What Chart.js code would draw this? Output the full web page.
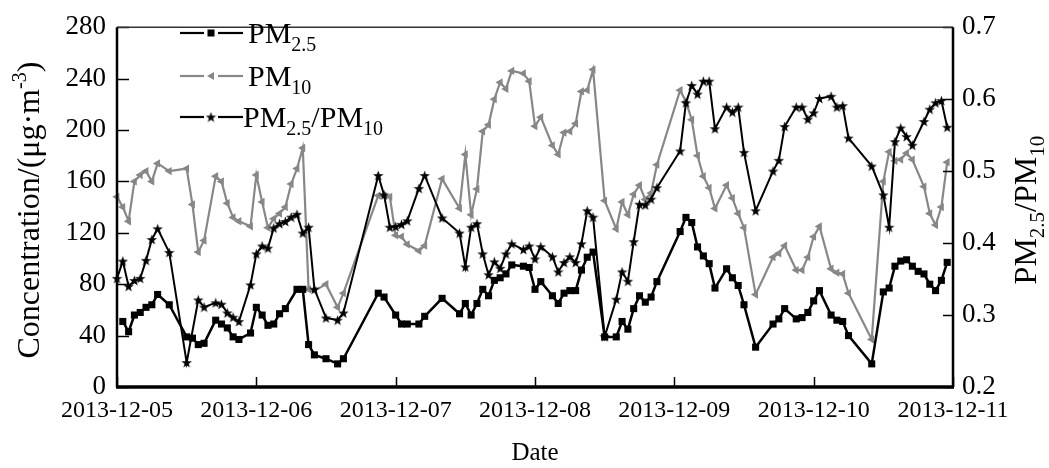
<!DOCTYPE html>
<html>
<head>
<meta charset="utf-8">
<script src="https://cdn.jsdelivr.net/npm/chart.js@4.4.1/dist/chart.umd.min.js"></script>
<style>
  html, body { margin: 0; padding: 0; background: #fff; }
  #wrap { width: 1049px; height: 468px; }
</style>
</head>
<body>
<div id="wrap"><canvas id="pm-chart"></canvas></div>
<script>
// x values are hours after 2013-12-05 00:00
const dateLabels = ["2013-12-05", "2013-12-06", "2013-12-07", "2013-12-08", "2013-12-09", "2013-12-10", "2013-12-11"];
const concTicks = [0, 40, 80, 120, 160, 200, 240, 280];
const ratioTicks = [0.2, 0.3, 0.4, 0.5, 0.6, 0.7];

const pm25Hours = [1, 2, 3, 4, 5, 6, 7, 9, 12, 13, 14, 15, 17, 18, 19, 20, 21, 23, 24, 25, 26, 27, 28, 29, 31, 32, 33, 34, 36, 38, 39,
  45, 46, 48, 49, 50, 52, 53, 56, 59, 60, 61, 62, 63, 64, 65, 66, 67, 68, 70, 71, 72, 73, 75, 76, 77, 78, 79, 80, 81, 82,
  84, 86, 87, 88, 89, 90, 91, 92, 93, 97, 98, 99, 100, 101, 102, 103, 105, 106, 107, 108, 110, 113, 114, 115, 117, 118, 119, 120, 121,
  123, 124, 125, 126, 130, 132, 133, 134, 135, 136, 137, 138, 139, 140, 141, 142, 143];
const pm25Values = [51, 43, 56, 58, 62, 64, 72, 64, 39, 38, 33, 34, 52, 49, 46, 39, 37, 42, 62, 56, 48, 49, 57, 61, 76, 76, 33, 25, 22, 18, 22,
  73, 70, 56, 49, 49, 49, 55, 69, 57, 65, 56, 65, 76, 71, 83, 85, 88, 95, 94, 93, 76, 82, 71, 65, 73, 75, 75, 91, 101, 105,
  39, 39, 51, 45, 61, 71, 66, 70, 82, 121, 132, 128, 109, 102, 96, 77, 92, 85, 79, 64, 31, 49, 53, 61, 53, 54, 58, 67, 75,
  56, 52, 51, 40, 18, 74, 77, 94, 98, 99, 94, 90, 88, 80, 75, 83, 97];

const pm10Hours = [0, 1, 2, 3, 4, 5, 6, 7, 9, 12, 13, 14, 15, 17, 18, 19, 20, 21, 23, 24, 25, 26, 27, 28, 29, 30, 31, 32, 33, 34, 36, 38, 39,
  45, 46, 47, 48, 49, 50, 52, 53, 56, 59, 60, 61, 62, 63, 64, 65, 66, 67, 68, 70, 71, 72, 73, 75, 76, 77, 78, 79, 80, 81, 82,
  84, 86, 87, 88, 89, 90, 91, 92, 93, 97, 98, 99, 100, 101, 102, 103, 105, 106, 107, 108, 110, 113, 114, 115, 117, 118, 119, 120, 121,
  123, 124, 125, 126, 130, 132, 133, 134, 135, 136, 137, 139, 140, 141, 142, 143];
const pm10Values = [148, 140, 129, 160, 165, 168, 160, 174, 168, 170, 142, 105, 114, 164, 160, 143, 132, 129, 125, 165, 144, 124, 131, 135, 140, 158, 170, 186, 76, 75, 80, 62, 73,
  149, 149, 148, 118, 117, 111, 106, 110, 162, 139, 181, 134, 154, 199, 204, 224, 237, 232, 246, 244, 238, 203, 210, 188, 181, 198, 199, 205, 230, 231, 247,
  145, 123, 144, 134, 150, 157, 146, 151, 173, 231, 222, 208, 180, 164, 155, 139, 157, 147, 135, 124, 72, 101, 104, 110, 91, 91, 101, 117, 125,
  92, 89, 88, 73, 37, 160, 183, 176, 177, 182, 177, 156, 135, 126, 140, 175];

const ratioHours = [0, 1, 2, 3, 4, 5, 6, 7, 9, 12, 14, 15, 17, 18, 19, 20, 21, 23, 24, 25, 26, 27, 28, 29, 30, 31, 32, 33, 34, 36, 38, 39,
  45, 46, 47, 48, 49, 50, 52, 53, 56, 59, 60, 61, 62, 63, 64, 65, 66, 67, 68, 70, 71, 72, 73, 75, 76, 77, 78, 79, 80, 81, 82,
  84, 86, 87, 88, 89, 90, 91, 92, 93, 97, 98, 99, 100, 101, 102, 103, 105, 106, 107, 108, 110, 113, 114, 115, 117, 118, 119, 120, 121,
  123, 124, 125, 126, 130, 132, 133, 134, 135, 136, 137, 139, 140, 141, 142, 143];
const ratioValues = [0.351, 0.375, 0.34, 0.348, 0.351, 0.376, 0.405, 0.42, 0.387, 0.234, 0.321, 0.311, 0.317, 0.315, 0.303, 0.297, 0.291, 0.342, 0.385, 0.396, 0.393, 0.421, 0.427, 0.43, 0.436, 0.44, 0.414, 0.422, 0.336, 0.296, 0.293, 0.303,
  0.494, 0.467, 0.422, 0.423, 0.426, 0.431, 0.476, 0.494, 0.435, 0.414, 0.367, 0.422, 0.427, 0.385, 0.356, 0.374, 0.365, 0.385, 0.399, 0.391, 0.396, 0.378, 0.395, 0.381, 0.36, 0.373, 0.381, 0.373, 0.399, 0.445, 0.436,
  0.27, 0.322, 0.36, 0.347, 0.402, 0.454, 0.453, 0.461, 0.477, 0.528, 0.595, 0.619, 0.607, 0.625, 0.625, 0.559, 0.589, 0.582, 0.589, 0.526, 0.445, 0.5, 0.515, 0.562, 0.589, 0.589, 0.572, 0.581, 0.601,
  0.604, 0.589, 0.591, 0.546, 0.507, 0.467, 0.422, 0.541, 0.56, 0.548, 0.536, 0.569, 0.586, 0.595, 0.598, 0.561];

const SERIF = '"Liberation Serif", "Times New Roman", serif';
const GREY = "#878787";

function toPoints(xs, ys) {
    return xs.map((x, i) => ({ x: x, y: ys[i] }));
}

function makeStar(size, color) {
    const c = document.createElement("canvas");
    c.width = size;
    c.height = size;
    const g = c.getContext("2d");
    g.fillStyle = color;
    g.beginPath();
    for (let i = 0; i < 10; i++) {
        const r = i % 2 ? size * 0.2 : size * 0.5;
        const a = -Math.PI / 2 + i * Math.PI / 5;
        const px = size / 2 + r * Math.cos(a);
        const py = size / 2 + 0.5 + r * Math.sin(a);
        if (i === 0) g.moveTo(px, py); else g.lineTo(px, py);
    }
    g.closePath();
    g.fill();
    return c;
}
const starImg = makeStar(11, "#000");

// draw text pieces like "PM" + subscript "2.5"
function drawRich(ctx, parts, x, y, align) {
    let total = 0;
    parts.forEach(p => {
        ctx.font = p.size + "px " + SERIF;
        p.w = ctx.measureText(p.t).width;
        total += p.w;
    });
    let cx = align === "center" ? x - total / 2 : x;
    ctx.textAlign = "left";
    ctx.textBaseline = "alphabetic";
    parts.forEach(p => {
        ctx.font = p.size + "px " + SERIF;
        ctx.fillText(p.t, cx, y + (p.dy || 0));
        cx += p.w;
    });
}

const framePlugin = {
    id: "frame",
    afterDraw(chart) {
        const ctx = chart.ctx;
        const a = chart.chartArea;
        const sx = chart.scales.x, sl = chart.scales.y, sr = chart.scales.y1;
        ctx.save();
        ctx.strokeStyle = "#000";
        ctx.lineCap = "butt";

        // inward tick marks
        ctx.lineWidth = 1.5;
        sl.ticks.forEach(t => {
            const py = Math.round(sl.getPixelForValue(t.value)) + 0.5;
            ctx.beginPath(); ctx.moveTo(a.left, py); ctx.lineTo(a.left + 12, py); ctx.stroke();
        });
        sr.ticks.forEach(t => {
            const py = Math.round(sr.getPixelForValue(t.value)) + 0.5;
            ctx.beginPath(); ctx.moveTo(a.right - 10, py); ctx.lineTo(a.right, py); ctx.stroke();
        });
        sx.ticks.forEach(t => {
            const px = Math.round(sx.getPixelForValue(t.value)) + 0.5;
            ctx.beginPath(); ctx.moveTo(px, a.bottom); ctx.lineTo(px, a.bottom - 10); ctx.stroke();
        });

        // box
        ctx.strokeStyle = "#333";
        ctx.lineWidth = 1.5;
        ctx.beginPath(); ctx.moveTo(a.left, a.top); ctx.lineTo(a.right, a.top); ctx.stroke();
        ctx.strokeStyle = "#000";
        ctx.lineWidth = 2.5;
        ctx.beginPath(); ctx.moveTo(a.left, a.top); ctx.lineTo(a.left, a.bottom); ctx.stroke();
        ctx.beginPath(); ctx.moveTo(a.right, a.top); ctx.lineTo(a.right, a.bottom); ctx.stroke();
        ctx.lineWidth = 3.5;
        ctx.beginPath(); ctx.moveTo(a.left - 1, a.bottom); ctx.lineTo(a.right + 1, a.bottom); ctx.stroke();

        // axis titles
        ctx.fillStyle = "#000";
        ctx.save();
        ctx.translate(39, (a.top + a.bottom) / 2 + 3);
        ctx.rotate(-Math.PI / 2);
        drawRich(ctx, [
            { t: "Concentration/(\u03bcg\u00b7m", size: 32 },
            { t: "-3", size: 20, dy: -13 },
            { t: ")", size: 32 }
        ], 0, 0, "center");
        ctx.restore();

        ctx.save();
        ctx.translate(1036, (a.top + a.bottom) / 2 + 3);
        ctx.rotate(-Math.PI / 2);
        drawRich(ctx, [
            { t: "PM", size: 32 },
            { t: "2.5", size: 21, dy: 8 },
            { t: "/PM", size: 32 },
            { t: "10", size: 21, dy: 8 }
        ], 0, 0, "center");
        ctx.restore();

        // legend
        const rows = [
            { y: 33, color: "#000", marker: "rect", parts: [{ t: "PM", size: 30 }, { t: "2.5", size: 20, dy: 8 }], tx: 248 },
            { y: 76, color: GREY, marker: "tri", parts: [{ t: "PM", size: 30 }, { t: "10", size: 20, dy: 8 }], tx: 248 },
            { y: 117, color: "#000", marker: "star", parts: [{ t: "PM", size: 30 }, { t: "2.5", size: 20, dy: 8 }, { t: "/PM", size: 30 }, { t: "10", size: 20, dy: 8 }], tx: 243 }
        ];
        rows.forEach(r => {
            ctx.strokeStyle = r.color;
            ctx.fillStyle = r.color;
            ctx.lineWidth = 2.2;
            ctx.beginPath(); ctx.moveTo(180, r.y); ctx.lineTo(204, r.y); ctx.stroke();
            ctx.beginPath(); ctx.moveTo(218, r.y); ctx.lineTo(243, r.y); ctx.stroke();
            const mx = 211;
            if (r.marker === "rect") {
                ctx.fillRect(mx - 3.5, r.y - 3.5, 7, 7);
            } else if (r.marker === "tri") {
                ctx.beginPath();
                ctx.moveTo(mx - 4, r.y); ctx.lineTo(mx + 3, r.y - 4); ctx.lineTo(mx + 3, r.y + 4);
                ctx.closePath(); ctx.fill();
            } else {
                ctx.drawImage(starImg, mx - 5.5, r.y - 5.5);
            }
            ctx.fillStyle = "#000";
            drawRich(ctx, r.parts, r.tx, r.y + 10, "left");
        });
        ctx.restore();
    }
};

const xTickFont = { family: SERIF, size: 24 };
const yTickFont = { family: SERIF, size: 27 };

new Chart(document.getElementById("pm-chart"), {
    type: "line",
    data: {
        datasets: [
            {
                label: "PM2.5",
                data: toPoints(pm25Hours, pm25Values),
                yAxisID: "y",
                borderColor: "#000",
                backgroundColor: "#000",
                borderWidth: 2.5,
                pointStyle: "rect",
                pointRadius: 5,
                pointBorderWidth: 0,
                order: 0,
            },
            {
                label: "PM10",
                data: toPoints(pm10Hours, pm10Values),
                yAxisID: "y",
                borderColor: GREY,
                backgroundColor: GREY,
                borderWidth: 2.2,
                pointStyle: "triangle",
                pointRotation: -90,
                pointRadius: 4.8,
                pointBorderWidth: 0,
                order: 2,
            },
            {
                label: "PM2.5/PM10",
                data: toPoints(ratioHours, ratioValues),
                yAxisID: "y1",
                borderColor: "#000",
                backgroundColor: "#000",
                borderWidth: 2,
                pointStyle: starImg,
                pointRadius: 5,
                order: 1,
            },
        ],
    },
    options: {
        responsive: true,
        maintainAspectRatio: false,
        animation: false,
        clip: false,
        layout: { padding: { top: 17, left: 0, right: 0, bottom: 0 } },
        plugins: {
            legend: { display: false },
            tooltip: { enabled: false },
        },
        elements: { line: { tension: 0 } },
        scales: {
            x: {
                type: "linear",
                position: "bottom",
                min: 0,
                max: 144,
                afterFit: s => { s.height = 81; },
                grid: { display: false, drawTicks: false },
                border: { display: false },
                ticks: {
                    stepSize: 24,
                    autoSkip: false,
                    maxRotation: 0,
                    padding: 9,
                    color: "#000",
                    font: xTickFont,
                    callback: v => dateLabels[Math.round(v / 24)],
                },
                title: {
                    display: true,
                    text: "Date",
                    color: "#000",
                    font: { family: SERIF, size: 25 },
                    padding: { top: 0, bottom: 0 },
                },
            },
            y: {
                position: "left",
                min: concTicks[0],
                max: concTicks[concTicks.length - 1],
                afterFit: s => { s.width = 117; },
                grid: { display: false, drawTicks: false },
                border: { display: false },
                ticks: { stepSize: 40, padding: 11, color: "#000", font: yTickFont },
            },
            y1: {
                position: "right",
                min: ratioTicks[0],
                max: ratioTicks[ratioTicks.length - 1],
                afterFit: s => { s.width = 96; },
                grid: { display: false, drawTicks: false },
                border: { display: false },
                ticks: { stepSize: 0.1, padding: 9, color: "#000", font: yTickFont, callback: v => v.toFixed(1) },
            },
        },
    },
    plugins: [framePlugin],
});
</script>
</body>
</html>
